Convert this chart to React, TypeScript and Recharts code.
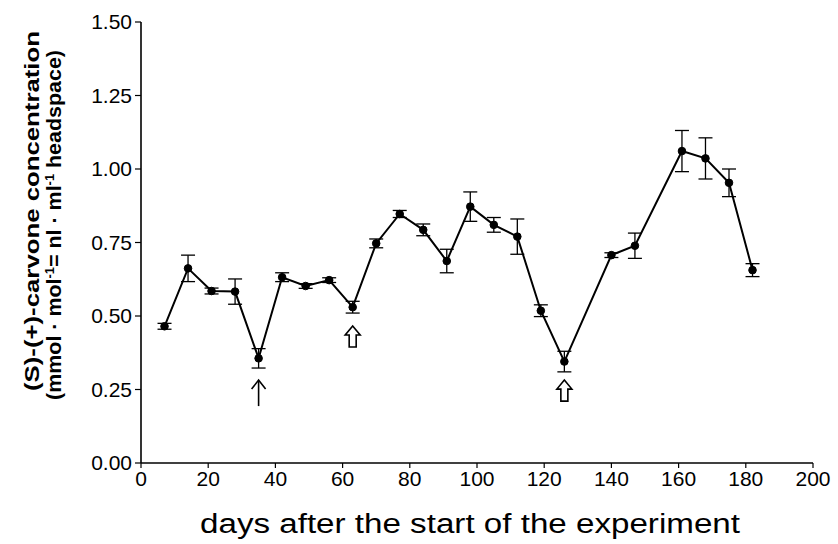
import React from "react";
import {
  LineChart,
  Line,
  XAxis,
  YAxis,
  ErrorBar,
  ReferenceDot,
  Label,
} from "recharts";

const days = [7, 14, 21, 28, 35, 42, 49, 56, 63, 70, 77, 84, 91, 98, 105, 112, 119, 126, 140, 147, 161, 168, 175, 182];
const conc = [0.465, 0.662, 0.585, 0.583, 0.356, 0.632, 0.602, 0.622, 0.53, 0.747, 0.847, 0.793, 0.687, 0.872, 0.81, 0.77, 0.518, 0.345, 0.707, 0.739, 1.061, 1.036, 0.953, 0.656];
const errs = [0.01, 0.045, 0.01, 0.043, 0.033, 0.015, 0.008, 0.008, 0.02, 0.015, 0.012, 0.02, 0.04, 0.05, 0.025, 0.06, 0.02, 0.035, 0.008, 0.043, 0.07, 0.07, 0.047, 0.022];

const xTicks = [0, 20, 40, 60, 80, 100, 120, 140, 160, 180, 200];
const yTicks = [0, 0.25, 0.5, 0.75, 1.0, 1.25, 1.5];

const arrowDays = [35, 63, 126];
const arrowTips = [0.282, 0.466, 0.282];
const arrowKinds = ["line", "block", "block"];

const xTitle = "days after the start of the experiment";
const yTitle1 = "(S)-(+)-carvone concentration";

const data = days.map((d, i) => ({ day: d, conc: conc[i], err: errs[i] }));

const FONT = "'Liberation Sans', Arial, Helvetica, sans-serif";

function LineArrow(props: any) {
  const { cx, cy } = props;
  if (cx == null || cy == null) return null;
  return (
    <g>
      <line x1={cx} y1={cy + 1} x2={cx} y2={cy + 26} stroke="#000" strokeWidth={1.6} />
      <polyline
        points={`${cx - 7},${cy + 9} ${cx},${cy} ${cx + 7},${cy + 9}`}
        fill="none"
        stroke="#000"
        strokeWidth={1.6}
      />
    </g>
  );
}

function BlockArrow(props: any) {
  const { cx, cy } = props;
  if (cx == null || cy == null) return null;
  const pts = [
    [cx, cy],
    [cx + 7.5, cy + 9],
    [cx + 3.5, cy + 9],
    [cx + 3.5, cy + 21],
    [cx - 3.5, cy + 21],
    [cx - 3.5, cy + 9],
    [cx - 7.5, cy + 9],
  ]
    .map((p) => p.join(","))
    .join(" ");
  return <polygon points={pts} fill="#fff" stroke="#000" strokeWidth={1.6} strokeLinejoin="miter" />;
}

function YTitle() {
  const c1x = 32;
  const c1y = 211;
  const c2x = 54;
  const c2y = 225;
  return (
    <g fontFamily={FONT} fontWeight="bold" fill="#000">
      <text
        x={c1x}
        y={c1y}
        transform={`rotate(-90, ${c1x}, ${c1y})`}
        textAnchor="middle"
        dy="0.36em"
        fontSize={20}
        textLength={360}
        lengthAdjust="spacingAndGlyphs"
      >
        {yTitle1}
      </text>
      <text
        x={c2x}
        y={c2y}
        transform={`rotate(-90, ${c2x}, ${c2y})`}
        textAnchor="middle"
        dy="0.36em"
        fontSize={20}
        textLength={350}
        lengthAdjust="spacingAndGlyphs"
      >
        <tspan>(mmol · mol</tspan>
        <tspan dy={-7} fontSize={12}>-1</tspan>
        <tspan dy={7}>= nl · ml</tspan>
        <tspan dy={-7} fontSize={12}>-1</tspan>
        <tspan dy={7}> headspace)</tspan>
      </text>
    </g>
  );
}

function XTitle(props: any) {
  return (
    <text
      x={470}
      y={533}
      textAnchor="middle"
      fontFamily={FONT}
      fontSize={27}
      fill="#000"
      textLength={540}
      lengthAdjust="spacingAndGlyphs"
    >
      {xTitle}
    </text>
  );
}

export default function App() {
  return (
    <div style={{ position: "absolute", left: 0, top: 0, width: 838, height: 544, background: "#fff" }}>
      <LineChart
        width={838}
        height={544}
        data={data}
        margin={{ top: 22, right: 25, bottom: 0, left: 0 }}
      >
        <XAxis
          dataKey="day"
          type="number"
          domain={[0, 200]}
          ticks={xTicks}
          height={81}
          tickSize={5}
          tickMargin={3}
          interval={0}
          axisLine={{ stroke: "#000", strokeWidth: 1.6 }}
          tickLine={{ stroke: "#000", strokeWidth: 1.2 }}
          tick={{ fill: "#000", fontSize: 21, fontFamily: FONT }}
        >
          <Label content={<XTitle />} />
        </XAxis>
        <XAxis
          xAxisId="top"
          orientation="top"
          type="number"
          domain={[0, 200]}
          height={0}
          tick={false}
          tickLine={false}
          axisLine={{ stroke: "#000", strokeWidth: 1.6 }}
        />
        <YAxis
          type="number"
          domain={[0, 1.5]}
          ticks={yTicks}
          width={141}
          tickSize={6}
          tickMargin={3}
          interval={0}
          tickFormatter={(v: number) => v.toFixed(2)}
          axisLine={{ stroke: "#000", strokeWidth: 1.6 }}
          tickLine={{ stroke: "#000", strokeWidth: 1.2 }}
          tick={{ fill: "#000", fontSize: 21, fontFamily: FONT }}
        >
          <Label content={<YTitle />} />
        </YAxis>
        <YAxis
          yAxisId="right"
          orientation="right"
          type="number"
          domain={[0, 1.5]}
          width={0}
          tick={false}
          tickLine={false}
          axisLine={{ stroke: "#000", strokeWidth: 1.6 }}
        />
        <Line
          type="linear"
          dataKey="conc"
          stroke="#000"
          strokeWidth={2}
          dot={{ r: 3.8, fill: "#000", stroke: "#000", strokeWidth: 1 }}
          isAnimationActive={false}
        >
          <ErrorBar dataKey="err" direction="y" width={7} stroke="#000" strokeWidth={1.3} />
        </Line>
        {arrowDays.map((d, i) => (
          <ReferenceDot
            key={i}
            x={d}
            y={arrowTips[i]}
            r={0}
            shape={arrowKinds[i] === "line" ? <LineArrow /> : <BlockArrow />}
          />
        ))}
      </LineChart>
    </div>
  );
}
